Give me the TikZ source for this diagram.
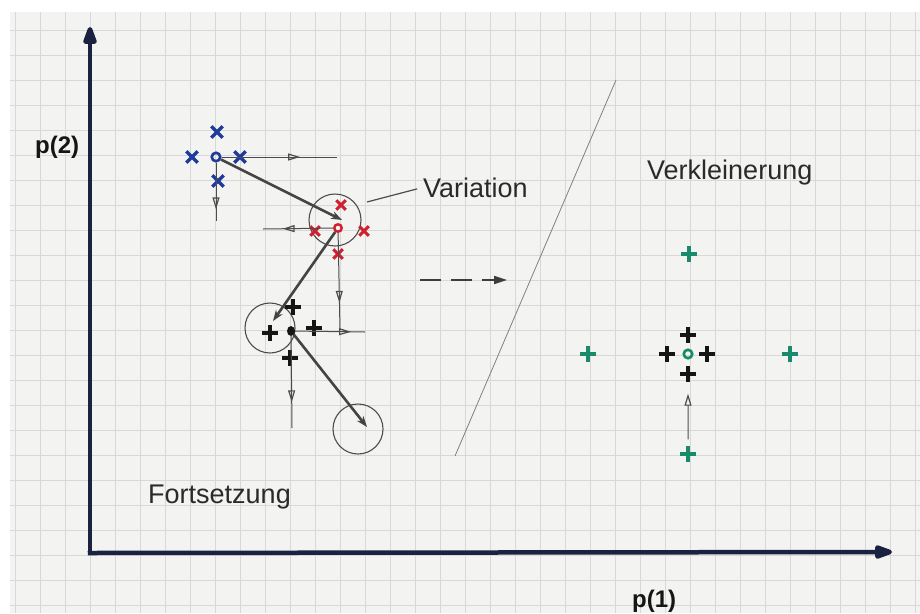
\documentclass[tikz,border=0pt]{standalone}
\usepackage{fontspec}
\setmainfont{Liberation Sans}
\usetikzlibrary{arrows.meta,decorations.markings,shapes.misc,shapes.geometric}
\definecolor{paper}{HTML}{F3F3F1}
\definecolor{gridc}{HTML}{D8D8D6}
\definecolor{navy}{HTML}{1B2140}
\definecolor{pencil}{HTML}{4C4C4C}
\definecolor{ink}{HTML}{2A2A2A}
\definecolor{mblue}{HTML}{1F3C99}
\definecolor{mred}{HTML}{D0202F}
\definecolor{mgreen}{HTML}{1A8A6C}
\definecolor{mblack}{HTML}{151515}
\begin{document}
\begin{tikzpicture}[x=1pt,y=-1pt,
  axis/.style={navy,line width=4.5pt,line cap=rect,-{Triangle[length=22pt,width=14pt,round]}},
  thinline/.style={pencil,line width=1pt},
  midarrow/.style={thinline,postaction={decorate},decoration={markings,mark=at position #1 with {\arrow{Triangle[open,length=12pt,width=7pt,line width=1.2pt]}}}},
  thickarrow/.style={pencil!90!black,line width=2.6pt,-{Stealth[length=11pt,width=8pt]}},
  xmark/.style={draw,cross out,line width=3.4pt,minimum size=8pt,inner sep=0pt},
  plusmark/.style={draw,cross out,rotate=45,line width=3.4pt,minimum size=7.5pt,inner sep=0pt},
  omark/.style={draw,circle,line width=2.6pt,minimum size=8.5pt,inner sep=0pt},
  ring/.style={draw,circle,pencil,line width=1.1pt,inner sep=0pt},
  hand/.style={ink,inner sep=0pt,font=\fontsize{27}{27}\selectfont},
  plabel/.style={mblack,inner sep=0pt,font=\fontsize{24}{24}\selectfont\bfseries}
]
\useasboundingbox (0,0) rectangle (920,613);
\fill[white] (0,0) rectangle (920,613);
\fill[paper] (10,12) rectangle (920,613);
\foreach \gx in {15,40,...,915} \draw[gridc,line width=0.8pt] (\gx,12) -- (\gx,613);
\foreach \gy in {30,55,...,605} \draw[gridc,line width=0.8pt] (10,\gy) -- (920,\gy);

% axes
\coordinate (O) at (90,553);
\coordinate (ytip) at (90,27);
\coordinate (xtip) at (892,552);
\draw[axis] (O) -- (ytip);
\draw[axis] (O) -- (xtip);
\node[plabel,anchor=base west] (p2) at (35,153) {p(2)};
\node[plabel,anchor=base west] (p1) at (632,607) {p(1)};

% circles
\node[ring,minimum size=52pt] (c1) at (335,220) {};
\node[ring,minimum size=50pt] (c2) at (270,328) {};
\node[ring,minimum size=50pt] (c3) at (358,429) {};

% blue step
\node[omark,mblue] (bo) at (216,157) {};
\node[xmark,mblue] (bxN) at (217,132) {};
\node[xmark,mblue] (bxW) at (192,157) {};
\node[xmark,mblue] (bxE) at (240,157) {};
\node[xmark,mblue] (bxS) at (218,181) {};
\coordinate (bR) at (337,157);
\coordinate (bD) at (216,221);
\draw[midarrow=0.68] (bo) -- (bR);
\draw[midarrow=0.8] (bo) -- (bD);

% red step
\node[omark,mred,minimum size=7.5pt,line width=2.4pt] (ro) at (338,228) {};
\node[xmark,mred,minimum size=6.5pt,line width=3pt] (rxN) at (341,205) {};
\node[xmark,mred,minimum size=6.5pt,line width=3pt] (rxW) at (315,231) {};
\node[xmark,mred,minimum size=6.5pt,line width=3pt] (rxE) at (364,231) {};
\node[xmark,mred,minimum size=6.5pt,line width=3pt] (rxS) at (338,254) {};
\coordinate (rL) at (263,229);
\coordinate (rD) at (340,330);
\draw[midarrow=0.72] (ro) -- (rL);
\draw[midarrow=0.72] (ro) -- (rD);

% black step
\node[fill=mblack,ellipse,minimum width=8pt,minimum height=10pt,inner sep=0pt] (kd) at (291,331) {};
\node[plusmark,mblack] (kpN) at (293,307) {};
\node[plusmark,mblack] (kpW) at (270,333) {};
\node[plusmark,mblack] (kpE) at (314,328) {};
\node[plusmark,mblack] (kpS) at (290,358) {};
\coordinate (kR) at (365,332);
\coordinate (kD) at (292,428);
\draw[midarrow=0.8] (kd) -- (kR);
\draw[midarrow=0.72] (kd) -- (kD);

% thick moves
\coordinate (t1) at (342,220);
\coordinate (t2) at (273,321);
\coordinate (t3) at (367,427);
\draw[thickarrow] (bo) -- (t1);
\draw[thickarrow] (ro) -- (t2);
\draw[thickarrow] (kd) -- (t3);

% labels
\node[hand,anchor=base west] (var) at (423,197) {Variation};
\coordinate (vl) at (367,202);
\draw[thinline,line width=1.2pt,shorten >=6pt] (vl) -- (var.west);
\node[hand,anchor=base west] (fort) at (148,503) {Fortsetzung};
\node[hand,anchor=base west] (verk) at (647,179) {Verkleinerung};

% dashed arrow and separator
\coordinate (da) at (420,280);
\coordinate (db) at (507,280);
\draw[pencil!80!black,line width=1.8pt,dash pattern=on 21pt off 10pt,-{Triangle[length=13pt,width=8pt]}] (da) -- (db);
\coordinate (d1) at (455,456);
\coordinate (d2) at (616,80);
\draw[gray,line width=0.8pt] (d1) -- (d2);

% shrink step
\node[omark,mgreen] (go) at (688,354) {};
\node[plusmark,mgreen] (gN) at (689,254) {};
\node[plusmark,mgreen] (gW) at (588,354) {};
\node[plusmark,mgreen] (gE) at (790,354) {};
\node[plusmark,mgreen] (gS) at (688,454) {};
\node[plusmark,mblack] (pN) at (688,335) {};
\node[plusmark,mblack] (pW) at (667,354) {};
\node[plusmark,mblack] (pE) at (707,354) {};
\node[plusmark,mblack] (pS) at (688,374) {};
\draw[thinline,shorten <=7pt,shorten >=12pt,-{Triangle[open,length=12pt,width=7pt,line width=1.2pt]}] (gS) -- (pS);
\end{tikzpicture}
\end{document}
